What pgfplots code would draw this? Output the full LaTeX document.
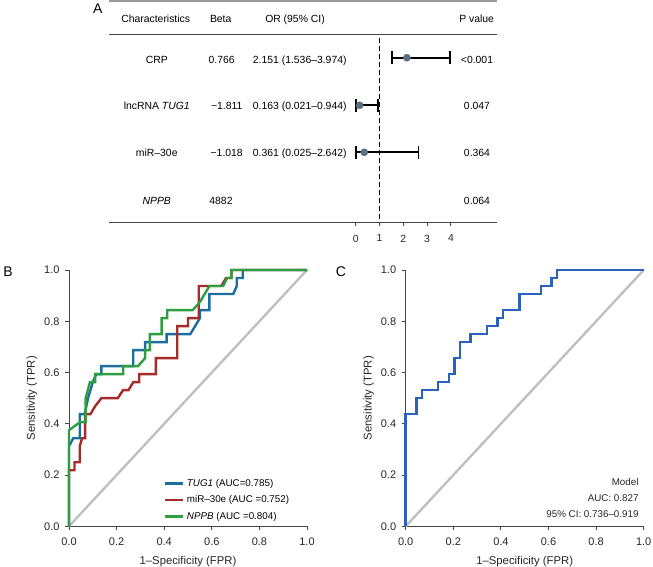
\documentclass[border=0pt]{standalone}
\usepackage{pgfplots}
\pgfplotsset{compat=1.18}
\usepackage{fontspec}
\setmainfont{Liberation Sans}
\definecolor{tugblue}{RGB}{28,110,158}
\definecolor{mirred}{RGB}{168,43,43}
\definecolor{nppbgreen}{RGB}{46,158,64}
\definecolor{modelblue}{RGB}{42,98,190}
\definecolor{diaggray}{RGB}{192,192,192}
\definecolor{ptcol}{RGB}{92,110,130}
\definecolor{axcol}{RGB}{70,70,70}
\newcommand{\tf}{\fontsize{10.4}{12}\selectfont}
\begin{document}
\begin{tikzpicture}
\useasboundingbox (0pt,0pt) rectangle (653pt,566pt);
% ---------------- Panel A ----------------
\begin{axis}[
  at={(109pt,343.7pt)}, anchor=south west,
  scale only axis, width=388.3pt, height=222.3pt,
  xmin=-10.366, xmax=5.95, ymin=-222.3, ymax=0,
  axis x line=bottom, axis y line=none,
  x axis line style={-, draw=axcol, line width=0.9pt},
  xtick={0,1,2,3,4},
  tick align=outside, major tick length=4pt,
  xtick style={draw=axcol, line width=0.9pt},
  xticklabel style={font=\tf, text=black!85, yshift=-5pt},
  /pgf/number format/assume math mode=true,
  clip=false,
]
\addplot[draw=black!40, line width=2.4pt] coordinates {(-10.366,-1.2) (5.95,-1.2)};
\addplot[draw=axcol, line width=0.9pt] coordinates {(-10.366,-34.3) (5.95,-34.3)};
\addplot[black, line width=1.9pt, dash pattern=on 5pt off 3pt] coordinates {(1,-37.7) (1,-221.7)};
\addplot[only marks, mark=none,
  error bars/.cd, x dir=both, x explicit, error mark=|,
  error bar style={line width=1.8pt, black},
  error mark options={line width=1.8pt, black, mark size=6.5pt}]
 coordinates {
 (2.151,-57.7) += (1.823,0) -= (0.615,0)
 (0.163,-105.3) += (0.781,0) -= (0.142,0)
 (0.361,-152.3) += (2.281,0) -= (0.336,0)
 };
\addplot[only marks, mark=*, mark size=3.6pt, mark options={fill=ptcol, draw=ptcol}]
 coordinates {(2.151,-57.7) (0.163,-105.3) (0.361,-152.3)};
% table text
\node[anchor=center, font=\fontsize{14}{16}\selectfont] at (axis cs:-10.84,-9) {A};
\node[anchor=base, font=\tf] at (axis cs:-8.403,-22.7) {Characteristics};
\node[anchor=base, font=\tf] at (axis cs:-5.672,-22.7) {Beta};
\node[anchor=base, font=\tf] at (axis cs:-2.55,-22.7) {OR (95\% CI)};
\node[anchor=base, font=\tf] at (axis cs:5.084,-22.7) {P value};
\node[anchor=base, font=\tf] at (axis cs:-8.36,-63.3) {CRP};
\node[anchor=base, font=\tf] at (axis cs:-8.36,-110) {lncRNA \textit{TUG1}};
\node[anchor=base, font=\tf] at (axis cs:-8.36,-156.7) {miR–30e};
\node[anchor=base, font=\tf] at (axis cs:-8.36,-204) {\textit{NPPB}};
\node[anchor=base, font=\tf] at (axis cs:-5.63,-63.3) {0.766};
\node[anchor=base, font=\tf] at (axis cs:-5.42,-110) {−1.811};
\node[anchor=base, font=\tf] at (axis cs:-5.42,-156.7) {−1.018};
\node[anchor=base, font=\tf] at (axis cs:-5.66,-204) {4882};
\node[anchor=base west, font=\tf, inner sep=0pt] at (axis cs:-4.328,-63.3) {2.151 (1.536–3.974)};
\node[anchor=base west, font=\tf, inner sep=0pt] at (axis cs:-4.328,-110) {0.163 (0.021–0.944)};
\node[anchor=base west, font=\tf, inner sep=0pt] at (axis cs:-4.328,-156.7) {0.361 (0.025–2.642)};
\node[anchor=base, font=\tf] at (axis cs:5.097,-63.3) {<0.001};
\node[anchor=base, font=\tf] at (axis cs:5.097,-110) {0.047};
\node[anchor=base, font=\tf] at (axis cs:5.097,-156.7) {0.364};
\node[anchor=base, font=\tf] at (axis cs:5.097,-204) {0.064};
\end{axis}
% ---------------- Panel B ----------------
\pgfplotsset{rocstyle/.style={
  scale only axis, width=238pt, height=256.3pt,
  xmin=0, xmax=1, ymin=0, ymax=1,
  axis x line*=bottom, axis y line*=left,
  axis line style={-, draw=axcol, line width=0.9pt},
  xtick={0,0.2,0.4,0.6,0.8,1}, ytick={0,0.2,0.4,0.6,0.8,1},
  tick align=outside, major tick length=4pt,
  tick style={draw=axcol, line width=0.9pt},
  /pgf/number format/fixed, /pgf/number format/fixed zerofill, /pgf/number format/precision=1,
  /pgf/number format/assume math mode=true,
  ticklabel style={font=\fontsize{11}{13}\selectfont, text=black!85},
  xticklabel style={yshift=-4pt},
  yticklabel style={xshift=-2pt},
  xlabel={1–Specificity (FPR)}, ylabel={Sensitivity (TPR)},
  label style={font=\fontsize{11.3}{13}\selectfont, text=black!85},
  xlabel style={at={(axis description cs:0.5,-0.138)}, anchor=center},
  ylabel style={at={(axis description cs:-0.1555,0.5)}, anchor=center},
  clip=false,
}}
\begin{axis}[rocstyle,
  at={(69pt,39.7pt)}, anchor=south west,
  legend cell align=left,
  legend style={draw=none, fill=none, at={(axis cs:0.383,0.01)}, anchor=south west,
    font=\fontsize{9.8}{11}\selectfont,
    nodes={inner sep=0pt, text height=7.5pt, text depth=2.5pt},
    row sep=6.5pt,
    /tikz/every odd column/.append style={column sep=3pt}},
  legend image code/.code={\draw[#1, line width=2.6pt] (0pt,0pt) -- (18pt,0pt);},
]
\addplot[diaggray, line width=2.4pt, forget plot] coordinates {(0,0) (1,1)};
\addplot[tugblue, line width=2.4pt] coordinates {
(0,0) (0,0.3125) (0.018,0.34375) (0.045,0.34375) (0.045,0.4375) (0.066,0.4375) (0.08,0.5) (0.09,0.53125) (0.1,0.5625) (0.114,0.59375) (0.136,0.59375) (0.136,0.625) (0.27,0.625) (0.27,0.6875) (0.32,0.6875) (0.32,0.71875) (0.41,0.71875) (0.41,0.75) (0.51,0.75) (0.53,0.78125) (0.55,0.8125) (0.55,0.84375) (0.59,0.84375) (0.59,0.90625) (0.69,0.90625) (0.705,0.9375) (0.705,0.96875) (0.73,0.96875) (0.73,1) (1,1)};
\addlegendentry{\textit{TUG1} (AUC=0.785)}
\addplot[mirred, line width=2.4pt] coordinates {
(0,0) (0,0.21875) (0.023,0.21875) (0.023,0.25) (0.045,0.25) (0.045,0.3125) (0.055,0.34375) (0.068,0.34375) (0.068,0.4375) (0.09,0.4375) (0.11,0.46875) (0.136,0.5) (0.205,0.5) (0.227,0.53125) (0.25,0.53125) (0.27,0.5625) (0.295,0.5625) (0.295,0.59375) (0.365,0.59375) (0.365,0.65625) (0.455,0.65625) (0.455,0.78125) (0.5,0.78125) (0.5,0.8125) (0.545,0.8125) (0.545,0.9375) (0.64,0.9375) (0.66,0.96875) (0.682,0.96875) (0.682,1) (1,1)};
\addlegendentry{miR–30e (AUC =0.752)}
\addplot[nppbgreen, line width=2.4pt] coordinates {
(0,0) (0,0.375) (0.046,0.40625) (0.07,0.40625) (0.07,0.5) (0.088,0.5625) (0.11,0.5625) (0.11,0.59375) (0.228,0.59375) (0.228,0.625) (0.29,0.625) (0.32,0.65625) (0.32,0.6875) (0.34,0.6875) (0.34,0.75) (0.389,0.75) (0.389,0.8125) (0.413,0.8125) (0.413,0.84375) (0.52,0.84375) (0.55,0.875) (0.57,0.90625) (0.59,0.9375) (0.648,0.9375) (0.665,0.96875) (0.682,0.96875) (0.682,1) (1,1)};
\addlegendentry{\textit{NPPB} (AUC =0.804)}
\end{axis}
\node[font=\fontsize{14}{16}\selectfont] at (8pt,294pt) {B};
% ---------------- Panel C ----------------
\begin{axis}[rocstyle, at={(405.7pt,39.7pt)}, anchor=south west]
\addplot[diaggray, line width=2.4pt] coordinates {(0,0) (1,1)};
\addplot[modelblue, line width=2.6pt] coordinates {
(0,0) (0,0.4375) (0.0455,0.4375) (0.0455,0.5) (0.0682,0.5) (0.0682,0.53125) (0.1364,0.53125) (0.1364,0.5625) (0.1818,0.5625) (0.1818,0.59375) (0.2045,0.59375) (0.2045,0.65625) (0.2273,0.65625) (0.2273,0.71875) (0.2727,0.71875) (0.2727,0.75) (0.3409,0.75) (0.3409,0.78125) (0.3864,0.78125) (0.3864,0.8125) (0.4091,0.8125) (0.4091,0.84375) (0.4773,0.84375) (0.4773,0.90625) (0.5682,0.90625) (0.5682,0.9375) (0.6136,0.9375) (0.6136,0.96875) (0.6364,0.96875) (0.6364,1) (1,1)};
\node[anchor=east, font=\fontsize{9.8}{11}\selectfont, text=black!85] at (axis cs:0.993,0.173) {Model};
\node[anchor=east, font=\fontsize{9.8}{11}\selectfont, text=black!85] at (axis cs:0.993,0.108) {AUC: 0.827};
\node[anchor=east, font=\fontsize{9.8}{11}\selectfont, text=black!85] at (axis cs:0.993,0.048) {95\% CI: 0.736–0.919};
\end{axis}
\node[font=\fontsize{14}{16}\selectfont] at (341pt,294pt) {C};
\end{tikzpicture}
\end{document}
